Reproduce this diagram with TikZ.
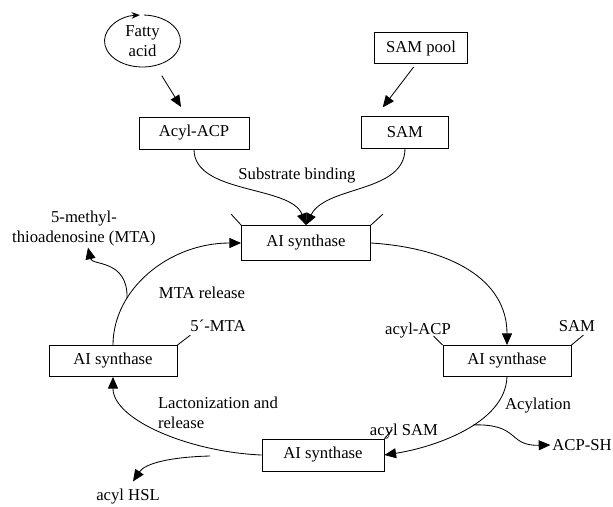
\documentclass[tikz,border=0pt]{standalone}
\usepackage{fontspec}
\setmainfont{Liberation Serif}
\usetikzlibrary{arrows.meta,shapes.geometric}

\begin{document}
\begin{tikzpicture}[x=0.6pt,y=-0.6pt,
	every node/.style={font=\fontsize{10}{12}\selectfont},
	box/.style={draw,line width=0.5pt,minimum width=76.8pt,minimum height=18.6pt,inner sep=0pt},
	lbl/.style={inner sep=1pt},
	arr/.style={line width=0.5pt,-{Triangle[length=7pt,width=6pt]}},
	stub/.style={line width=0.5pt}]
	\useasboundingbox (0,0) rectangle (613,506);

	\node[ellipse,minimum width=45.6pt,minimum height=31.2pt,align=center,inner sep=0pt] (fatty) at (142.5,41) {Fatty\\acid};
	\node[box,minimum width=66pt,minimum height=19.2pt] (acylacp) at (194,133) {Acyl-ACP};
	\node[box,minimum width=55.8pt] (sampool) at (421,48) {SAM pool};
	\node[box,minimum width=52.2pt,minimum height=19.2pt] (sam) at (405,132) {SAM};
	\node[box,minimum width=77.4pt,minimum height=21pt] (synT) at (306,243) {AI synthase};
	\node[box] (synR) at (507,361) {AI synthase};
	\node[box,minimum width=73.2pt,minimum height=19.2pt] (synB) at (323,455) {AI synthase};
	\node[box] (synL) at (113,361) {AI synthase};

	\node[lbl] (binding) at (297,176) {Substrate binding};
	\node[lbl] (acpleft) at (418,331) {acyl-ACP};
	\node[lbl] (samright) at (577,326) {SAM};
	\node[lbl] (acylation) at (538,406) {Acylation};
	\node[lbl] (acylsam) at (404,432) {acyl SAM};
	\node[lbl] (acpsh) at (582,445) {ACP-SH};
	\node[lbl,anchor=west,align=left] (lacton) at (156,413) {Lactonization and\\release};
	\node[lbl] (hsl) at (128,497) {acyl HSL};
	\node[lbl] (mtarel) at (202,293) {MTA release};
	\node[lbl] (mtafree) at (218,326) {5´-MTA};
	\node[lbl,align=center] (mta) at (84,228) {5-methyl-\\thioadenosine (MTA)};
	\coordinate (hslfrom) at (210,456);

	% fatty acid loop
	\draw[line width=0.5pt,-{Stealth[length=5pt,width=4pt]}] (fatty.center) ++(272:38 and 26) arc[start angle=272,end angle=626,x radius=38,y radius=26];

	\draw[arr,shorten <=7pt,shorten >=6.8pt] (fatty.-62) -- ([xshift=-4.2pt]acylacp.north);
	\draw[arr,shorten <=2.3pt,shorten >=6.2pt] ([xshift=-3pt]sampool.south) -- ([xshift=-17.1pt]sam.north);
	\draw[arr] (acylacp.south) .. controls +(0,45) and +(-15,-40) .. (synT.north);
	\draw[arr] (sam.south) .. controls +(0,45) and +(20,-40) .. (synT.north);
	\draw[arr] (synT.east) .. controls +(79,5) and +(0,-66) .. (synR.north);
	\draw[arr] (synR.south) .. controls +(-2,48) and +(46,-7) .. (synB.east) coordinate[pos=0.42] (acpfork);
	\draw[arr] (acpfork) .. controls +(47,-1) and +(-43,1) .. (acpsh.west);
	\draw[arr] (synB.west) .. controls +(-72,-3) and +(0,43) .. (synL.south);
	\draw[arr] (hslfrom) .. controls +(-40,1) and +(12,-18) .. ([shift={(5,-6)}]hsl.north);
	\draw[arr] (synL.north) .. controls +(0,-56) and +(-72,0) .. (synT.west) coordinate[pos=0.3] (mtafork);
	\draw[arr] (mtafork) .. controls +(1,-39) and +(4,18) .. ([xshift=2.4pt]mta.south);

	% binding stubs
	\draw[stub] (synT.north west) -- ++(-10,-11);
	\draw[stub] (synT.north east) -- ++(12,-11);
	\draw[stub] (synR.north west) -- ++(-9,-9);
	\draw[stub] (synR.north east) -- ++(12,-10);
	\draw[stub] (synL.north east) -- ++(13,-10);
	\draw[stub] (synB.north east) -- ++(8,-9);
\end{tikzpicture}
\end{document}
